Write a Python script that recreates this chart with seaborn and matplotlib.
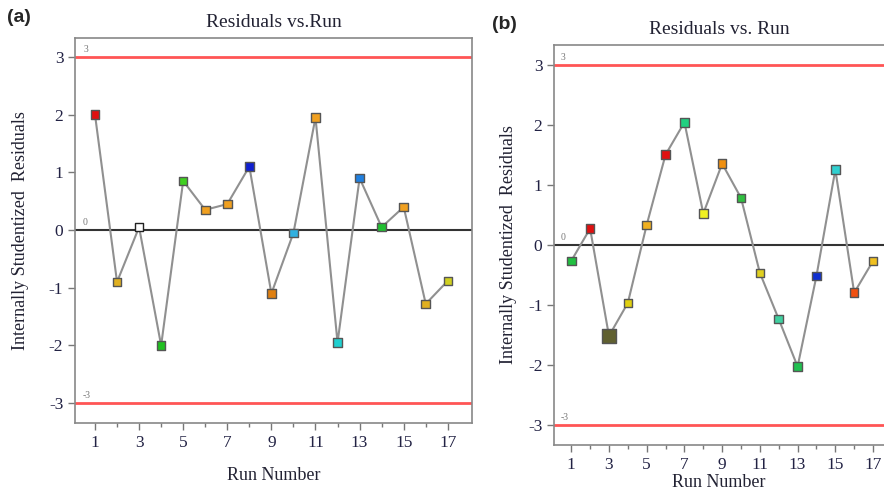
import matplotlib
matplotlib.use("Agg")
import matplotlib.pyplot as plt
import seaborn as sns
import pandas as pd
import numpy as np

sns.set_theme(style="white")
plt.rcParams['font.family'] = ['Liberation Serif', 'DejaVu Serif']
plt.rcParams['axes.unicode_minus'] = False

# --- data ---
runs = list(range(1, 18))

resid_a = [2.0, -0.9, 0.05, -2.0, 0.85, 0.35, 0.45, 1.1, -1.1, -0.05,
           1.95, -1.95, 0.9, 0.05, 0.4, -1.28, -0.88]
colors_a = ['#e01010', '#e0b020', '#ffffff', '#20c020', '#40d020', '#f0a020',
            '#f0a020', '#1020d0', '#e08010', '#30b0e0', '#f0a020', '#20d0d0',
            '#2080e0', '#20c030', '#f0a020', '#e0b020', '#d0d020']

resid_b = [-0.27, 0.27, -1.52, -0.97, 0.33, 1.5, 2.04, 0.52, 1.35, 0.78,
           -0.47, -1.24, -2.03, -0.52, 1.25, -0.8, -0.27]
colors_b = ['#20c040', '#e01010', '#606030', '#e0d010', '#f0b020', '#e01010',
            '#20d080', '#f0f020', '#f09010', '#30c040', '#e0d020', '#40d0a0',
            '#20c050', '#1030d0', '#30d0d0', '#f05010', '#f0c020']

xticks = [1, 3, 5, 7, 9, 11, 13, 15, 17]
yticks = [-3, -2, -1, 0, 1, 2, 3]


def draw_panel(ax, resid, colors, title, big_run=None):
    df = pd.DataFrame({'run': runs, 'resid': resid})
    ax.axhline(3, color='#ff5555', lw=2, zorder=1)
    ax.axhline(-3, color='#ff5555', lw=2, zorder=1)
    ax.axhline(0, color='#333333', lw=1.5, zorder=1)
    sns.lineplot(data=df, x='run', y='resid', color='#909090', lw=1.5, ax=ax, zorder=2)
    sizes = [90 if r == big_run else 38 for r in runs]
    ax.scatter(df['run'], df['resid'], c=colors, s=sizes, marker='s',
               edgecolors='#555555', linewidths=1.0, zorder=3)
    ax.set_ylim(-3.34, 3.33)
    ax.set_xticks(xticks)
    ax.set_xticks(range(2, 18, 2), minor=True)
    ax.set_yticks(yticks)
    ax.tick_params(axis='both', which='major', direction='out', length=5, width=1,
                   color='#777777', labelsize=12.5, labelcolor='#222244', bottom=True, left=True)
    ax.tick_params(axis='x', which='minor', direction='out', length=3, width=1,
                   color='#777777', bottom=True)
    for s in ax.spines.values():
        s.set_color('#888888')
        s.set_linewidth(1.2)
    ax.set_xlabel('Run Number', fontsize=13, color='#222233')
    ax.set_ylabel('Internally Studentized  Residuals', fontsize=13, color='#222233')
    ax.set_title(title, fontsize=14, color='#222233', pad=8)
    for v in [3, 0, -3]:
        ax.text(0.02, v + 0.05, str(v), transform=ax.get_yaxis_transform(),
                fontsize=7, color='#777777', va='bottom')


fig = plt.figure(figsize=(8.84, 4.98), dpi=100)
ax1 = fig.add_axes([0.085, 0.151, 0.449, 0.773])
ax2 = fig.add_axes([0.627, 0.106, 0.373, 0.804])

draw_panel(ax1, resid_a, colors_a, 'Residuals vs.Run')
ax1.set_xlim(0.1, 18.1)
ax1.collections[-1].set_edgecolors(['#555555'] * 2 + ['#222222'] + ['#555555'] * 14)
ax1.xaxis.labelpad = 12
ax1.yaxis.labelpad = 14
ax1.title.set_y(1.005)

draw_panel(ax2, resid_b, colors_b, 'Residuals vs. Run', big_run=3)
ax2.set_xlim(0.1, 17.58)
ax2.spines['right'].set_visible(False)
ax2.xaxis.labelpad = 1
ax2.yaxis.labelpad = 8
ax2.title.set_y(1.015)

fig.text(0.008, 0.955, '(a)', fontsize=14, fontweight='bold', family=['Liberation Sans', 'DejaVu Sans'])
fig.text(0.557, 0.942, '(b)', fontsize=14, fontweight='bold', family=['Liberation Sans', 'DejaVu Sans'])

fig.savefig('out.png', dpi=100)
